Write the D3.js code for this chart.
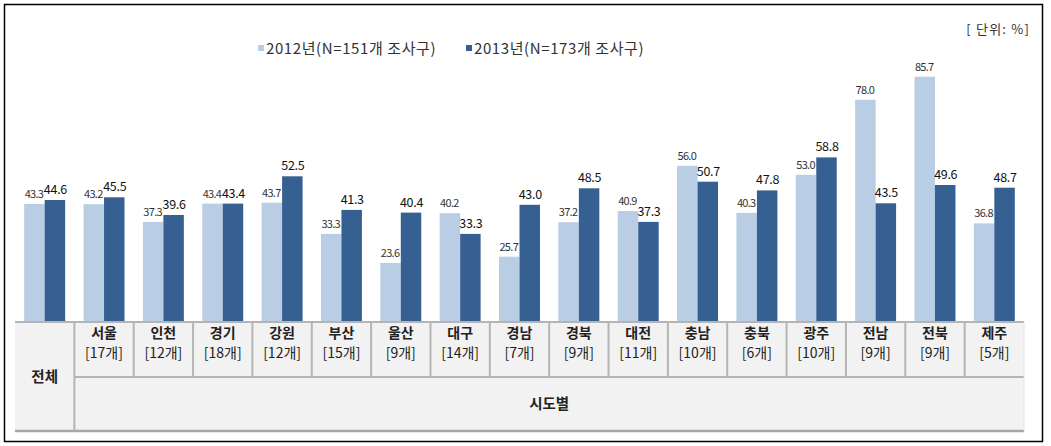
<!DOCTYPE html>
<html><head><meta charset="utf-8">
<script src="https://cdn.jsdelivr.net/npm/d3@7/dist/d3.min.js"></script>
<style>body{margin:0;background:#fff}svg{display:block}text{font-family:"Noto Sans CJK KR","Noto Sans",sans-serif}</style>
</head><body><svg id="c" width="1051" height="446"></svg>
<script>
const categories = ["전체","서울","인천","경기","강원","부산","울산","대구","경남","경북","대전","충남","충북","광주","전남","전북","제주"];
const counts = ["","[17개]","[12개]","[18개]","[12개]","[15개]","[9개]","[14개]","[7개]","[9개]","[11개]","[10개]","[6개]","[10개]","[9개]","[9개]","[5개]"];
const series = ["2012년(N=151개 조사구)","2013년(N=173개 조사구)"];
const values2012 = [43.3,43.2,37.3,43.4,43.7,33.3,23.6,40.2,25.7,37.2,40.9,56.0,40.3,53.0,78.0,85.7,36.8];
const values2013 = [44.6,45.5,39.6,43.4,52.5,41.3,40.4,33.3,43.0,48.5,37.3,50.7,47.8,58.8,43.5,49.6,48.7];
const groupLabel = "시도별";
const unitLabel = "[ 단위: %]";

const colors = ["#b9cde5","#376092"];
const svg = d3.select("#c");
const tableLeft = 15, tableRight = 1024, tableTop = 322, rowMid = 377, tableBottom = 431;

const x = d3.scaleBand().domain(categories).range([tableLeft, tableRight]).paddingInner(0.31).paddingOuter(0.155);
const xs = d3.scaleBand().domain([0,1]).range([0, x.bandwidth()]);
const y = d3.scaleLinear().domain([0,100]).range([333.8, 33.8]);

const data = categories.map((c,i)=>({c, v:[values2012[i], values2013[i]]}));

// bars
const g = svg.append("g");
data.forEach(d=>{
  d.v.forEach((v,s)=>{
    g.append("rect").attr("x", x(d.c)+xs(s)).attr("y", y(v))
      .attr("width", xs.bandwidth()).attr("height", y(0)-y(v)).attr("fill", colors[s]);
    g.append("text").attr("x", x(d.c)+xs(s)+xs.bandwidth()/2 + (s===0 ? -0.5 : 0.5)).attr("y", y(v)-6)
      .attr("text-anchor","middle")
      .attr("font-size", s===0 ? 11 : 12.5)
      .attr("letter-spacing", s===0 ? -0.7 : -0.3)
      .attr("fill", s===0 ? "#333" : "#111")
      .text(v.toFixed(1));
  });
});

// table
const step = x.step();
const t = svg.append("g");
t.append("rect").attr("x",tableLeft).attr("y",tableTop).attr("width",tableRight-tableLeft).attr("height",tableBottom-tableTop).attr("fill","#f2f2f2");
const lc = "#b4b4b4";
t.append("line").attr("x1",tableLeft).attr("x2",tableRight).attr("y1",tableTop).attr("y2",tableTop).attr("stroke",lc).attr("stroke-width",2);
t.append("line").attr("x1",tableLeft+step).attr("x2",tableRight).attr("y1",rowMid).attr("y2",rowMid).attr("stroke",lc).attr("stroke-width",2);
t.append("line").attr("x1",tableLeft).attr("x2",tableRight).attr("y1",tableBottom).attr("y2",tableBottom).attr("stroke","#a6a6a6").attr("stroke-width",2.5);
categories.forEach((c,i)=>{
  const x0 = tableLeft + i*step;
  if(i>0) t.append("line").attr("x1",x0).attr("x2",x0).attr("y1",tableTop).attr("y2", i===1 ? tableBottom : rowMid).attr("stroke",lc).attr("stroke-width",2);
  const cx = x0 + step/2;
  if(i===0){
    t.append("text").attr("x",cx).attr("y",(tableTop+tableBottom)/2+5).attr("text-anchor","middle").attr("font-size",14.5).attr("font-weight","bold").attr("fill","#222").text(c);
  } else {
    t.append("text").attr("x",cx).attr("y",338).attr("text-anchor","middle").attr("font-size",14).attr("font-weight","bold").attr("fill","#222").text(c);
    t.append("text").attr("x",cx).attr("y",358).attr("text-anchor","middle").attr("font-size",14).attr("fill","#222").attr("letter-spacing",0).text(counts[i]);
  }
});
t.append("line").attr("x1",tableRight).attr("x2",tableRight).attr("y1",tableTop).attr("y2",tableBottom).attr("stroke","#e6e6e6").attr("stroke-width",1);
t.append("text").attr("x",(tableLeft+step+tableRight)/2).attr("y",(rowMid+tableBottom)/2+5).attr("text-anchor","middle").attr("font-size",14.5).attr("font-weight","bold").attr("fill","#222").text(groupLabel);

// legend
const legX = [258, 466];
series.forEach((s,i)=>{
  svg.append("rect").attr("x",legX[i]).attr("y",45).attr("width",6).attr("height",6).attr("fill",colors[i]);
  svg.append("text").attr("x",legX[i]+8).attr("y",54).attr("font-size",15).attr("fill","#333").attr("letter-spacing",0.6).text(s);
});
svg.append("text").attr("x",1030).attr("y",34).attr("text-anchor","end").attr("font-size",13).attr("fill","#333").attr("letter-spacing",1.2).text(unitLabel);

// frame
svg.append("rect").attr("x",4.5).attr("y",4.5).attr("width",1038).attr("height",437).attr("fill","none").attr("stroke","#000").attr("stroke-width",1.5);
</script></body></html>
